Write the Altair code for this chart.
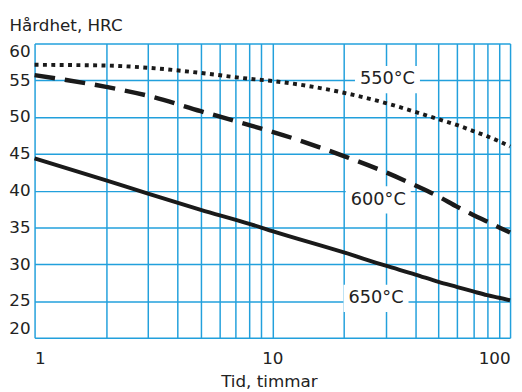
import altair as alt
import pandas as pd

hours = [1, 2, 3, 5, 8, 10, 20, 30, 40, 50, 60, 70, 80, 90, 100]
hrc_550 = [57.1, 57.0, 56.7, 56.0, 55.2, 54.9, 53.3, 51.9, 50.7, 49.7, 48.9, 48.1, 47.4, 46.7, 46.0]
hrc_600 = [55.7, 54.1, 52.9, 50.8, 48.9, 48.0, 44.7, 42.5, 40.7, 39.2, 37.8, 36.7, 35.8, 35.0, 34.3]
hrc_650 = [44.4, 41.4, 39.6, 37.4, 35.5, 34.5, 31.6, 29.8, 28.6, 27.6, 26.9, 26.3, 25.8, 25.45, 25.1]

label_text = ["550°C", "600°C", "650°C"]
label_x = [30.5, 27.9, 27.3]
label_y = [55.1, 38.75, 25.35]

x_grid = [1, 2, 3, 4, 5, 6, 7, 8, 9, 10, 20, 30, 40, 50, 60, 70, 80, 90, 100]
x_labels = [1, 10, 100]
y_grid = [20, 25, 30, 35, 40, 45, 50, 55, 60]

FONT = "DejaVu Sans"
GRID = "#22a0dc"
INK = "#1a1a1a"

xscale = alt.Scale(type="log", domain=[1, 100], nice=False)
yscale = alt.Scale(domain=[20, 60], nice=False, zero=False)

label_expr = "indexof([" + ",".join(str(v) for v in x_labels) + "], datum.value) >= 0 ? datum.label : ''"

xaxis = alt.Axis(values=x_grid, labelExpr=label_expr, title="Tid, timmar",
                 labelPadding=13, labelOverlap=False, labelFlush=True,
                 titleX=238, titleY=49.5, titleBaseline="alphabetic")
yaxis = alt.Axis(values=y_grid, title="Hårdhet, HRC", labelPadding=4.5,
                 labelFlush=True, labelOverlap=False, titleAngle=0, titleAlign="left",
                 titleBaseline="alphabetic", titleX=-26, titleY=-13.3)

def enc(chart, xf, yf, **extra):
    return chart.encode(x=alt.X(xf, scale=xscale, axis=xaxis),
                        y=alt.Y(yf, scale=yscale, axis=yaxis), **extra)

def curve(vals, dash, width):
    df = pd.DataFrame({"t": hours, "h": vals})
    mk = alt.Chart(df).mark_line(color=INK, strokeWidth=width, interpolate="monotone",
                                 strokeCap="butt", **({"strokeDash": dash} if dash else {}))
    return enc(mk, "t:Q", "h:Q")

labels = pd.DataFrame({"x": label_x, "y": label_y, "text": label_text})

boxes = enc(alt.Chart(labels).mark_point(
    shape="M-1,-0.42L1,-0.42L1,0.42L-1,0.42Z", filled=True, fill="white",
    opacity=1, strokeWidth=0, size=66 * 66), "x:Q", "y:Q")

texts = enc(alt.Chart(labels).mark_text(font=FONT, fontSize=18, color="#222222",
                                        align="center", baseline="middle"),
            "x:Q", "y:Q", text="text:N")

chart = alt.layer(
    boxes,
    curve(hrc_550, [4, 4.5], 4),
    curve(hrc_600, [21, 10], 4.5),
    curve(hrc_650, None, 4),
    texts,
).properties(
    width=483, height=299,
    autosize=alt.AutoSizeParams(type="none"),
    padding={"left": 27, "top": 33, "right": 4, "bottom": 52},
).configure_view(strokeWidth=0).configure_axis(
    grid=True, gridColor=GRID, gridWidth=1.5, gridOpacity=1,
    domain=False, ticks=False, tickSize=0, labelOverlap=False,
    labelFont=FONT, labelFontSize=17, labelColor="#222222",
    titleFont=FONT, titleFontSize=17, titleColor="#222222", titleFontWeight="normal",
)

chart.save("out.html", embed_options={"renderer": "svg", "actions": False})
